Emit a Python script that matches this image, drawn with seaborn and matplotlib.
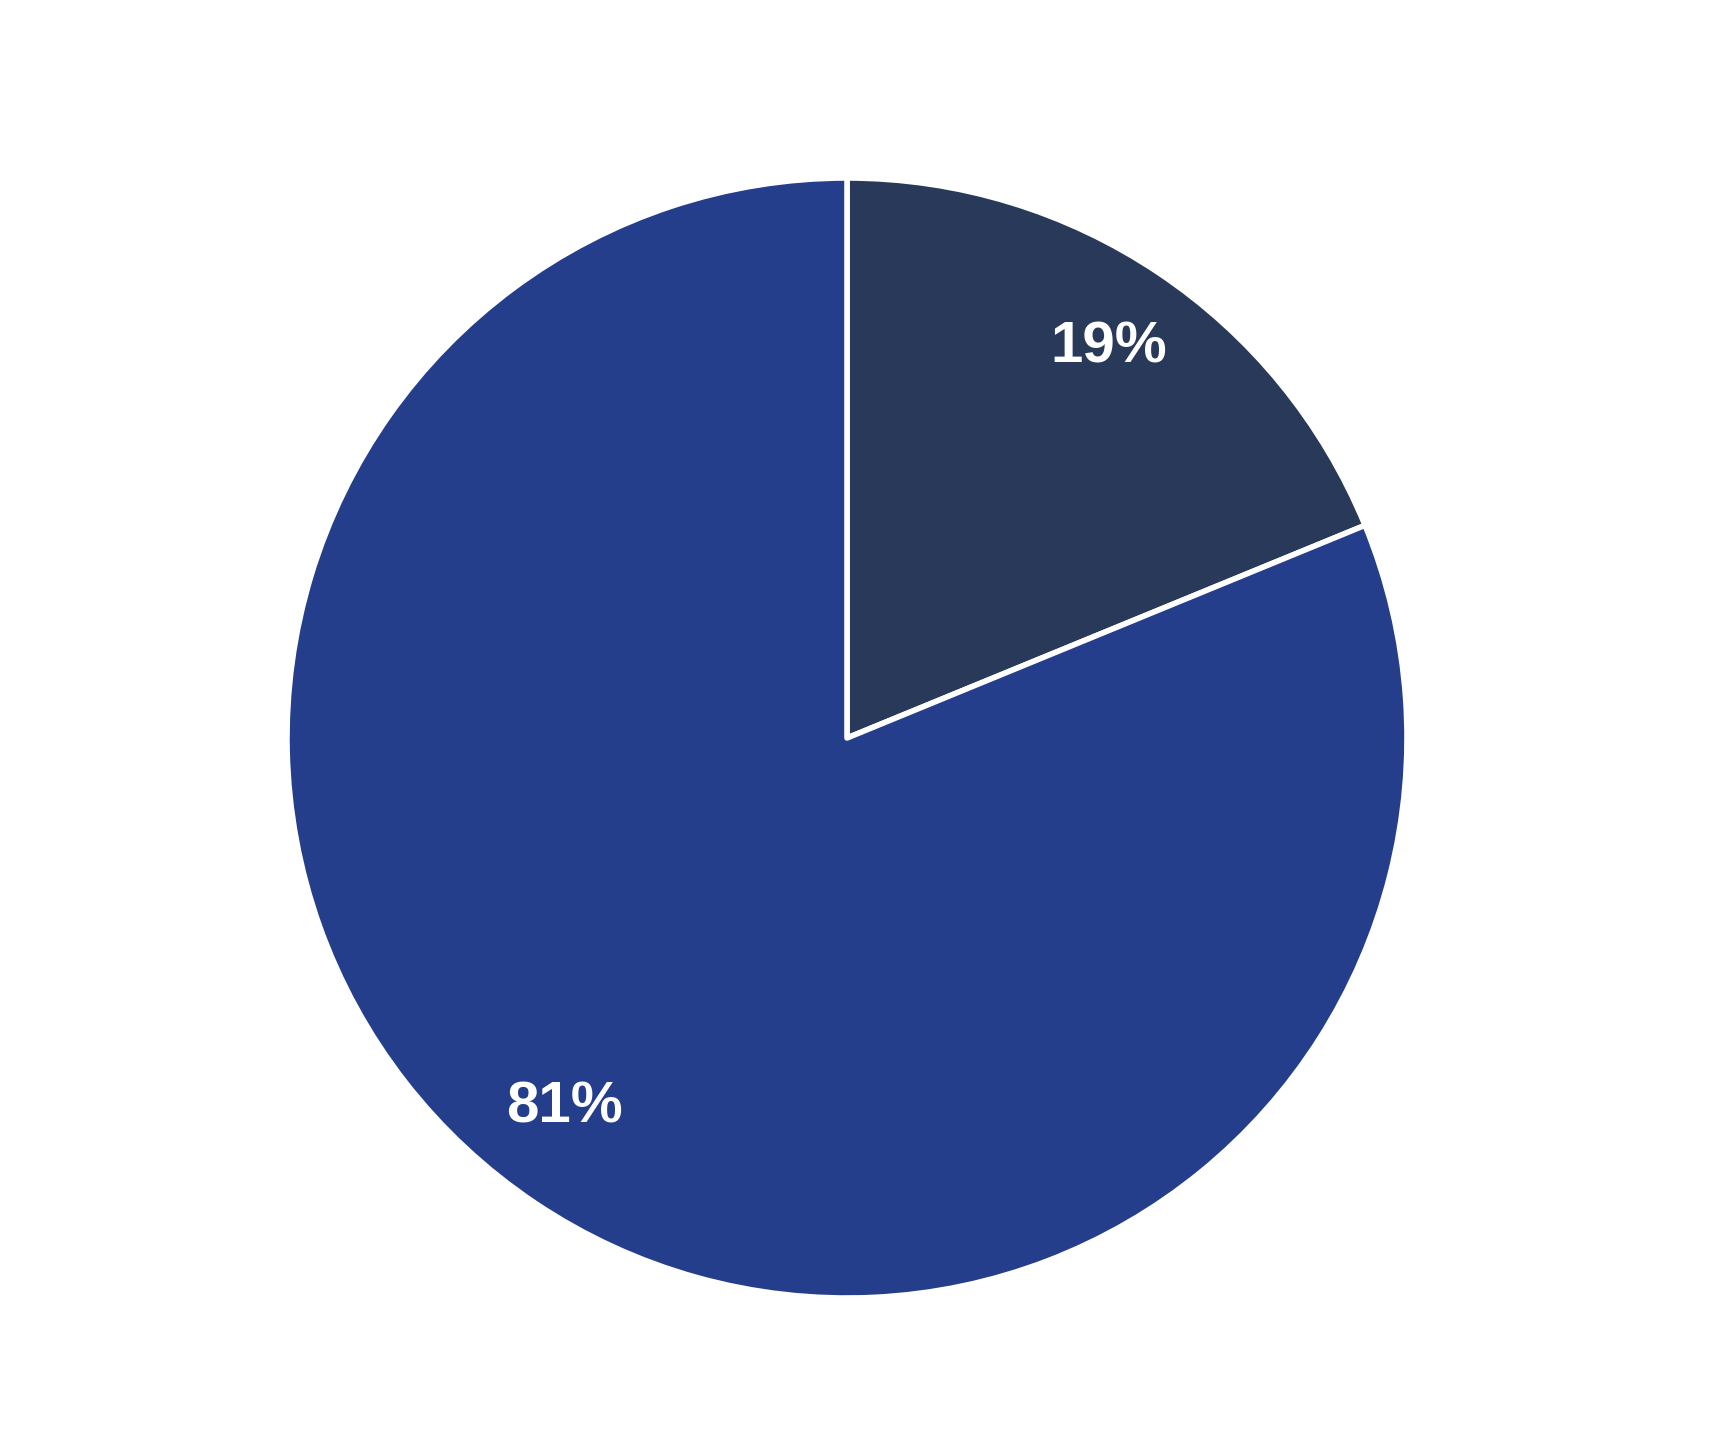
import matplotlib
matplotlib.use("Agg")
from matplotlib import pyplot as plt
import seaborn as sns

labels = ["Group A", "Group B"]
shares = [18.8, 81.2]
colors = ["#29395A", "#243E8C"]

palette = sns.color_palette(colors)

fig = plt.figure(figsize=(17.09, 14.29), dpi=100, facecolor="white")
# pie centre ~ (847, 738) px, radius ~560 px
r = 560
ax = fig.add_axes([(847 - r) / 1709, (1429 - 738 - r) / 1429, 2 * r / 1709, 2 * r / 1429])

wedges, texts, autotexts = ax.pie(
    shares, colors=palette, startangle=90, counterclock=False,
    autopct=lambda p: f"{p:.0f}%", pctdistance=0.84, radius=1,
    wedgeprops=dict(edgecolor="white", linewidth=4, joinstyle="round"),
    textprops=dict(color="white", fontsize=42, fontweight="bold", family="Liberation Sans"))
# the 81% label sits a little further left in the original
autotexts[1].set_position((-0.505, -0.66))
ax.set_xlim(-1, 1)
ax.set_ylim(-1, 1)
ax.set_aspect("equal")
ax.axis("off")

plt.savefig("out.png", dpi=100)
